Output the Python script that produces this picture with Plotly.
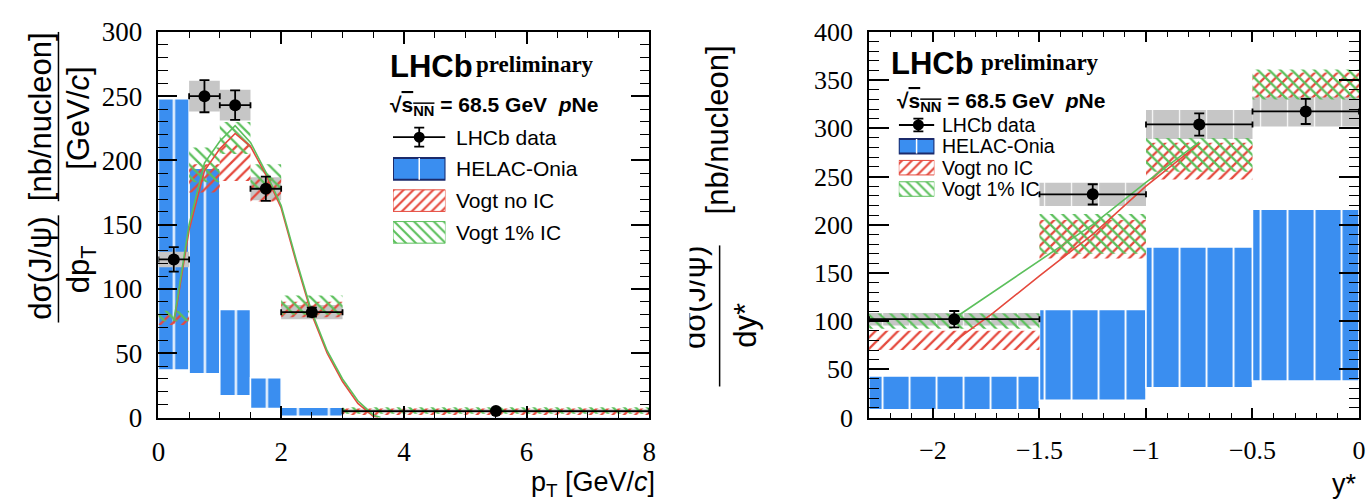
import plotly.graph_objects as go

W, H = 1366, 504

# ---------------- left panel: pT ----------------
pt_lo = [0.0, 0.5, 1.0, 1.5, 2.0, 3.0]
pt_hi = [0.5, 1.0, 1.5, 2.0, 3.0, 8.0]
pt_data = [123, 250, 243, 178, 82, 5]
pt_stat = [9.5, 12.5, 11.5, 9.5, 3.5, 1.0]
pt_syst = [6, 12, 12, 9, 5.5, 1.5]
pt_helac_lo = [37, 34, 17, 7, 1, 0]
pt_helac_hi = [248, 194, 84, 31, 8, 1]
pt_noic_lo = [72, 175, 184, 168, 78, 2]
pt_noic_hi = [80, 197, 212, 186, 90, 7]
pt_ic_lo = [75, 183, 205, 178, 80, 3]
pt_ic_hi = [83, 210, 230, 197, 95, 8]
pt_curve_ic_x = [0.25, 0.5, 0.75, 1.0, 1.25, 1.5, 1.75, 2.0, 2.25, 2.5, 2.75, 3.0, 3.25, 3.5, 3.62]
pt_curve_ic = [75, 150, 198, 215, 227, 214, 191, 165, 122, 82, 52, 30, 13, 2, 0]
pt_curve_noic_x = [0.25, 0.5, 0.75, 1.0, 1.25, 1.5, 1.75, 2.0, 2.25, 2.5, 2.75, 3.0, 3.25, 3.5, 3.58]
pt_curve_noic = [73, 146, 192, 209, 221, 211, 189, 163, 120, 80, 50, 28, 11, 1, 0]

# ---------------- right panel: y* ----------------
y_lo = [-2.3, -1.5, -1.0, -0.5]
y_hi = [-1.5, -1.0, -0.5, 0.0]
y_data = [102, 231.5, 304, 317.5]
y_stat = [8.5, 10.5, 11.5, 13]
y_syst = [6.5, 12, 15, 15.5]
y_helac_lo = [8, 18, 31, 38]
y_helac_hi = [43, 112, 177, 216]
y_noic_lo = [70, 165, 247, 332]
y_noic_hi = [90, 205, 285, 358]
y_ic_lo = [92, 170, 255, 330]
y_ic_hi = [108, 211, 290, 361]
y_curve_noic_x = [-1.9, -1.72, -1.5, -1.25, -1.0, -0.75]
y_curve_noic = [79, 108, 147, 190, 240, 284]
y_curve_ic_x = [-1.9, -1.5, -1.25, -1.0, -0.75]
y_curve_ic = [103, 163, 200, 244, 286]

legend_labels = ["LHCb data", "HELAC-Onia", "Vogt no IC", "Vogt 1% IC"]

BLUE = "#3a8ef0"
GRAY = "#c6c6c6"
RED = "#e5493d"
GREEN = "#5cc05c"
NAVY = "#1b2a6b"


def X(px):
    return px / W


def Y(py):
    return 1 - py / H


fig = go.Figure()


def band(lo_x, hi_x, lo, hi, xa, ya, marker):
    fig.add_trace(go.Bar(
        x=[(a + b) / 2 for a, b in zip(lo_x, hi_x)],
        y=[h - l for l, h in zip(lo, hi)],
        base=lo,
        width=[b - a for a, b in zip(lo_x, hi_x)],
        xaxis=xa, yaxis=ya, marker=marker,
        showlegend=False, hoverinfo="skip"))


def hatch(shape, color):
    return dict(color="rgba(0,0,0,0)", line=dict(width=0),
                pattern=dict(shape=shape, fgcolor=color, bgcolor="rgba(0,0,0,0)",
                             size=8, solidity=0.28, fillmode="replace"))


def helac(size):
    return dict(color=BLUE, line=dict(color="white", width=1.5),
                pattern=dict(shape="|", fgcolor="white", bgcolor=BLUE,
                             size=size, solidity=0.07, fillmode="replace"))


def panel(lo_x, hi_x, data, stat, syst, h_lo, h_hi, n_lo, n_hi, i_lo, i_hi,
          cnx, cn, cix, ci, xa, ya, helac_size, gray_marker):
    band(lo_x, hi_x, h_lo, h_hi, xa, ya, helac(helac_size))
    band(lo_x, hi_x, [d - s for d, s in zip(data, syst)],
         [d + s for d, s in zip(data, syst)], xa, ya, gray_marker)
    band(lo_x, hi_x, n_lo, n_hi, xa, ya, hatch("/", RED))
    band(lo_x, hi_x, i_lo, i_hi, xa, ya, hatch("\\", GREEN))
    fig.add_trace(go.Scatter(x=cnx, y=cn, mode="lines", xaxis=xa, yaxis=ya,
                             line=dict(color=RED, width=1.6), showlegend=False,
                             hoverinfo="skip"))
    fig.add_trace(go.Scatter(x=cix, y=ci, mode="lines", xaxis=xa, yaxis=ya,
                             line=dict(color=GREEN, width=1.6), showlegend=False,
                             hoverinfo="skip"))
    fig.add_trace(go.Scatter(
        x=[(a + b) / 2 for a, b in zip(lo_x, hi_x)], y=data, mode="markers",
        xaxis=xa, yaxis=ya, showlegend=False, hoverinfo="skip",
        marker=dict(color="black", size=12),
        error_y=dict(type="data", array=stat, color="black", thickness=1.8, width=5),
        error_x=dict(type="data", array=[(b - a) / 2 for a, b in zip(lo_x, hi_x)],
                     color="black", thickness=1.8, width=3)))


panel(pt_lo, pt_hi, pt_data, pt_stat, pt_syst, pt_helac_lo, pt_helac_hi,
      pt_noic_lo, pt_noic_hi, pt_ic_lo, pt_ic_hi,
      pt_curve_noic_x, pt_curve_noic, pt_curve_ic_x, pt_curve_ic,
      "x", "y", 31, dict(color=GRAY, line=dict(width=0)))

panel(y_lo, y_hi, y_data, y_stat, y_syst, y_helac_lo, y_helac_hi,
      y_noic_lo, y_noic_hi, y_ic_lo, y_ic_hi,
      y_curve_noic_x, y_curve_noic, y_curve_ic_x, y_curve_ic,
      "x2", "y2", 27,
      dict(color=GRAY, line=dict(width=0),
           pattern=dict(shape="|", fgcolor="rgba(255,255,255,0.85)", bgcolor=GRAY,
                        size=27, solidity=0.05, fillmode="replace")))


# ---------------- custom legends (swatches in helper axes) ----------------
def legend_swatches(xa, ya, mk):
    half = 0.34
    fig.add_trace(go.Scatter(x=[0, 1], y=[0.5, 0.5], mode="lines", xaxis=xa, yaxis=ya,
                             line=dict(color="black", width=1.8), showlegend=False,
                             hoverinfo="skip"))
    fig.add_trace(go.Scatter(x=[mk], y=[0.5], mode="markers", xaxis=xa, yaxis=ya,
                             marker=dict(color="black", size=11), showlegend=False,
                             hoverinfo="skip",
                             error_y=dict(type="data", array=[0.3], color="black",
                                          thickness=1.8, width=5)))
    boxes = [
        dict(color=BLUE, line=dict(color=NAVY, width=2)),
        dict(color="rgba(0,0,0,0)", line=dict(color=RED, width=1),
             pattern=dict(shape="/", fgcolor=RED, bgcolor="rgba(0,0,0,0)",
                          size=7, solidity=0.3, fillmode="replace")),
        dict(color="rgba(0,0,0,0)", line=dict(color=GREEN, width=1),
             pattern=dict(shape="\\", fgcolor=GREEN, bgcolor="rgba(0,0,0,0)",
                          size=7, solidity=0.3, fillmode="replace")),
    ]
    for i, m in enumerate(boxes, start=1):
        fig.add_trace(go.Bar(x=[0.5], y=[2 * half], base=[i + 0.5 - half], width=[1],
                             xaxis=xa, yaxis=ya, marker=m, showlegend=False,
                             hoverinfo="skip"))
    fig.add_trace(go.Scatter(x=[0.5, 0.5], y=[1.5 - half, 1.5 + half], mode="lines",
                             xaxis=xa, yaxis=ya, line=dict(color="white", width=1.5),
                             showlegend=False, hoverinfo="skip"))


legend_swatches("x3", "y3", 0.5)
legend_swatches("x4", "y4", 0.55)


# ---------------- axes ----------------
def common(size):
    return dict(showline=True, linecolor="black", linewidth=1.5, mirror="allticks",
                ticks="inside", tickcolor="black", tickwidth=1.5, showgrid=False,
                zeroline=False, ticklabelstandoff=9, fixedrange=True,
                tickfont=dict(family="Liberation Serif", size=size, color="black"))


ydom = [Y(428), Y(18)]

fig.update_layout(
    width=W, height=H, margin=dict(l=0, r=0, t=0, b=0),
    paper_bgcolor="white", plot_bgcolor="rgba(0,0,0,0)",
    barmode="overlay", showlegend=False,
    xaxis=dict(domain=[X(153), X(649)], range=[0, 8], tick0=0, dtick=2, ticklen=12,
               minor=dict(ticks="inside", dtick=0.5, ticklen=6, tickcolor="black",
                          tickwidth=1.2), anchor="y", **common(27)),
    yaxis=dict(domain=ydom, range=[0, 300], tick0=0, dtick=50, ticklen=19,
               minor=dict(ticks="inside", dtick=10, ticklen=10, tickcolor="black",
                          tickwidth=1.2), anchor="x", **common(27)),
    xaxis2=dict(domain=[X(871), 1.0], range=[-2.3, 0.0], tick0=0, dtick=0.5,
                ticklen=10, minor=dict(ticks="inside", dtick=0.1, ticklen=5,
                                       tickcolor="black", tickwidth=1.2),
                anchor="y2", **common(26)),
    yaxis2=dict(domain=ydom, range=[0, 400], tick0=0, dtick=50, ticklen=20,
                minor=dict(ticks="inside", dtick=10, ticklen=10, tickcolor="black",
                           tickwidth=1.2), anchor="x2", **common(26)),
    xaxis3=dict(domain=[X(390), X(443)], range=[0, 1], visible=False, anchor="y3",
                fixedrange=True),
    yaxis3=dict(domain=[Y(248), Y(113)], range=[4, 0], visible=False, anchor="x3",
                fixedrange=True),
    xaxis4=dict(domain=[X(901), X(937)], range=[0, 1], visible=False, anchor="y4",
                fixedrange=True),
    yaxis4=dict(domain=[Y(196.4), Y(105.6)], range=[4, 0], visible=False, anchor="x4",
                fixedrange=True),
)

# ---------------- text ----------------
SANS = "Liberation Sans"
SERIF = "Liberation Serif"
ann = []


def text(t, x, y, size, family=SANS, xanchor="left", angle=0, **kw):
    ann.append(dict(text=t, x=X(x), y=Y(y), xref="paper", yref="paper",
                    xanchor=xanchor, yanchor="middle", showarrow=False,
                    textangle=angle,
                    font=dict(family=family, size=size, color="black"), **kw))


sqrt_txt = ("<b>√<span style='text-decoration:overline'>s<sub>NN</sub></span>"
            " = 68.5 GeV  <i>p</i>Ne</b>")

# left panel header + legend labels
text("<b>LHCb</b>", 385, 55, 31)
text("<b>preliminary</b>", 472, 53, 23, family=SERIF)
text(sqrt_txt, 385, 97, 21)
for i, lab in enumerate(legend_labels):
    text(lab, 452, 113 + 33.75 * (i + 0.5), 21)

# right panel header + legend labels
text("<b>LHCb</b>", 891, 52, 31)
text("<b>preliminary</b>", 982, 50, 23, family=SERIF)
text(sqrt_txt, 897, 92, 21)
for i, lab in enumerate(legend_labels):
    text(lab, 943, 105.6 + 22.7 * (i + 0.5), 19.5)

# axis titles
text("p<sub>T</sub> [GeV/<i>c</i>]", 657, 499, 27, xanchor="right")
text("y*", 1366, 499, 27, xanchor="right")

text("dσ(J/ψ)", 34, 269, 31, xanchor="center", angle=-90)
text("[nb/nucleon]", 34, 108, 31, xanchor="center", angle=-90)
text("dp<sub>T</sub>", 75, 270, 31, xanchor="center", angle=-90)
text("[GeV/<i>c</i>]", 72, 110, 31, xanchor="center", angle=-90)

text("dσ(J/ψ)", 694, 300, 31, xanchor="center", angle=-90)
# white mask reproducing the cropped edge of the right panel's numerator
ann.append(dict(text=" ", x=X(673), y=Y(300), xref="paper", yref="paper",
                xanchor="center", yanchor="middle", showarrow=False,
                width=30, height=200, bgcolor="white"))
text("[nb/nucleon]", 718, 122, 31, xanchor="center", angle=-90)
text("dy*", 746, 330, 31, xanchor="center", angle=-90)

fig.update_layout(annotations=ann)

lines = [
    (52, 18, 198), (52, 213, 327),
    (720, 245, 395),
]
fig.update_layout(shapes=[
    dict(type="line", xref="paper", yref="paper", x0=X(x), x1=X(x), y0=Y(a), y1=Y(b),
         line=dict(color="black", width=1.5))
    for x, a, b in lines
])

fig.write_html("out.html")
